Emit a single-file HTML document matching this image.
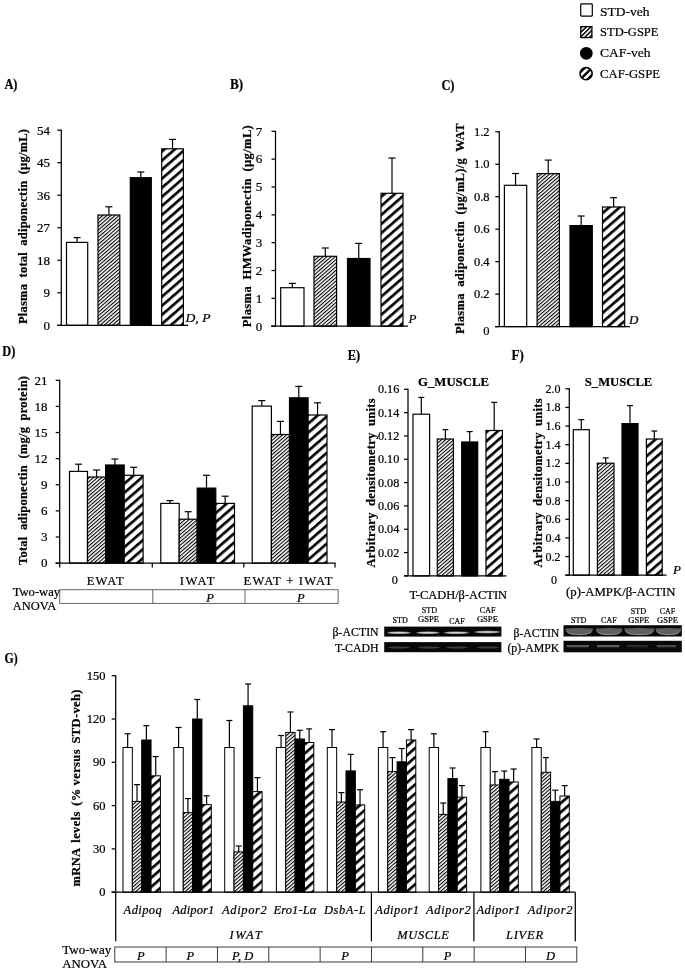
<!DOCTYPE html>
<html><head><meta charset="utf-8"><title>Figure</title>
<style>html,body{margin:0;padding:0;background:#fff}svg{display:block}text{font-family:'Liberation Serif',serif;fill:#000;stroke:#000;stroke-width:.22px}</style>
</head><body>
<svg width="685" height="971" viewBox="0 0 685 971">
<defs>
<pattern id="hf" width="2.7" height="2.7" patternUnits="userSpaceOnUse" patternTransform="rotate(-41)"><rect width="2.7" height="2.7" fill="#fff"/><rect width="2.7" height="1.1" fill="#000"/></pattern>
<pattern id="hw" width="6.85" height="6.85" patternUnits="userSpaceOnUse" patternTransform="rotate(-41)"><rect width="6.85" height="6.85" fill="#fff"/><rect width="6.85" height="2.65" fill="#000"/></pattern>
<pattern id="hl" width="3.2" height="3.2" patternUnits="userSpaceOnUse" patternTransform="rotate(-45) translate(0,0.8)"><rect width="3.2" height="3.2" fill="#fff"/><rect width="3.2" height="1.5" fill="#000"/></pattern>
<filter id="bl" x="-10%" y="-50%" width="120%" height="200%"><feGaussianBlur stdDeviation="0.5"/></filter>
<clipPath id="c4"><circle cx="586.1" cy="73.7" r="6"/></clipPath>
</defs>
<rect width="685" height="971" fill="#fff"/>

<rect x="580.7" y="3.9" width="11.6" height="12.2" rx="0.8" fill="#fff" stroke="#000" stroke-width="1.2"/>
<rect x="580.8" y="26.6" width="11.1" height="11" fill="url(#hl)" stroke="#000" stroke-width="1.3"/>
<circle cx="586.3" cy="53.3" r="6.35" fill="#000"/>
<circle cx="586.1" cy="73.7" r="6.1" fill="#fff" stroke="#000" stroke-width="1.5"/>
<g clip-path="url(#c4)"><line x1="579" y1="80.8" x2="593.2" y2="66.6" stroke="#000" stroke-width="2.4"/><line x1="575.4" y1="77.2" x2="589.6" y2="63" stroke="#000" stroke-width="2.4"/><line x1="582.6" y1="84.4" x2="596.8" y2="70.2" stroke="#000" stroke-width="2.4"/></g>
<text x="600.0" y="16.4" font-size="13.5" textLength="49.6" lengthAdjust="spacingAndGlyphs">STD-veh</text>
<text x="600.0" y="35.8" font-size="13.5" textLength="58.5" lengthAdjust="spacingAndGlyphs">STD-GSPE</text>
<text x="600.0" y="56.8" font-size="13.5" textLength="50.5" lengthAdjust="spacingAndGlyphs">CAF-veh</text>
<text x="600.0" y="78.2" font-size="13.5" textLength="60.0" lengthAdjust="spacingAndGlyphs">CAF-GSPE</text>
<text x="4.4" y="88.8" font-size="13.8" font-weight="bold" textLength="13.1" lengthAdjust="spacingAndGlyphs">A)</text>
<text x="229.9" y="88.8" font-size="13.8" font-weight="bold" textLength="13.1" lengthAdjust="spacingAndGlyphs">B)</text>
<text x="441.4" y="90.0" font-size="13.8" font-weight="bold" textLength="13.1" lengthAdjust="spacingAndGlyphs">C)</text>
<text x="2.2" y="356.3" font-size="13.8" font-weight="bold" textLength="13.1" lengthAdjust="spacingAndGlyphs">D)</text>
<text x="347.8" y="359.8" font-size="13.8" font-weight="bold" textLength="12.4" lengthAdjust="spacingAndGlyphs">E)</text>
<text x="511.6" y="359.8" font-size="13.8" font-weight="bold" textLength="12.2" lengthAdjust="spacingAndGlyphs">F)</text>
<text x="4.4" y="662.5" font-size="13.8" font-weight="bold" textLength="13.2" lengthAdjust="spacingAndGlyphs">G)</text>
<line x1="77.10" y1="237.60" x2="77.10" y2="242.40" stroke="#000" stroke-width="1.2"/>
<line x1="73.60" y1="237.60" x2="80.60" y2="237.60" stroke="#000" stroke-width="1.2"/>
<rect x="66.50" y="242.40" width="21.20" height="82.90" fill="#fff" stroke="#000" stroke-width="1.2"/>
<line x1="108.90" y1="206.80" x2="108.90" y2="215.00" stroke="#000" stroke-width="1.2"/>
<line x1="105.40" y1="206.80" x2="112.40" y2="206.80" stroke="#000" stroke-width="1.2"/>
<rect x="98.00" y="215.00" width="21.80" height="110.30" fill="url(#hf)" stroke="#000" stroke-width="1.2"/>
<line x1="140.80" y1="172.00" x2="140.80" y2="177.70" stroke="#000" stroke-width="1.2"/>
<line x1="137.30" y1="172.00" x2="144.30" y2="172.00" stroke="#000" stroke-width="1.2"/>
<rect x="130.30" y="177.70" width="21.00" height="147.60" fill="#000" stroke="#000" stroke-width="1.2"/>
<line x1="172.55" y1="139.40" x2="172.55" y2="148.80" stroke="#000" stroke-width="1.2"/>
<line x1="169.05" y1="139.40" x2="176.05" y2="139.40" stroke="#000" stroke-width="1.2"/>
<rect x="161.70" y="148.80" width="21.70" height="176.50" fill="url(#hw)" stroke="#000" stroke-width="1.2"/>
<line x1="57.30" y1="325.30" x2="188.00" y2="325.30" stroke="#000" stroke-width="1.25"/>
<line x1="61.30" y1="129.70" x2="61.30" y2="325.30" stroke="#000" stroke-width="1.25"/>
<line x1="57.30" y1="325.30" x2="61.30" y2="325.30" stroke="#000" stroke-width="1.25"/>
<text x="50.0" y="329.6" font-size="13" text-anchor="end">0</text>
<line x1="57.30" y1="292.78" x2="61.30" y2="292.78" stroke="#000" stroke-width="1.25"/>
<text x="50.0" y="297.1" font-size="13" text-anchor="end">9</text>
<line x1="57.30" y1="260.27" x2="61.30" y2="260.27" stroke="#000" stroke-width="1.25"/>
<text x="50.0" y="264.6" font-size="13" text-anchor="end">18</text>
<line x1="57.30" y1="227.75" x2="61.30" y2="227.75" stroke="#000" stroke-width="1.25"/>
<text x="50.0" y="232.0" font-size="13" text-anchor="end">27</text>
<line x1="57.30" y1="195.23" x2="61.30" y2="195.23" stroke="#000" stroke-width="1.25"/>
<text x="50.0" y="199.5" font-size="13" text-anchor="end">36</text>
<line x1="57.30" y1="162.72" x2="61.30" y2="162.72" stroke="#000" stroke-width="1.25"/>
<text x="50.0" y="167.0" font-size="13" text-anchor="end">45</text>
<line x1="57.30" y1="130.20" x2="61.30" y2="130.20" stroke="#000" stroke-width="1.25"/>
<text x="50.0" y="134.5" font-size="13" text-anchor="end">54</text>
<text x="27.2" y="324.0" font-size="12.5" font-weight="bold" textLength="195.0" lengthAdjust="spacing" word-spacing="3" transform="rotate(-90 27.2 324.0)">Plasma total adiponectin (µg/mL)</text>
<text x="185.5" y="322.0" font-size="13" font-style="italic" stroke-width="0.08" textLength="25.0" lengthAdjust="spacingAndGlyphs">D, P</text>
<line x1="292.35" y1="283.40" x2="292.35" y2="287.70" stroke="#000" stroke-width="1.2"/>
<line x1="288.85" y1="283.40" x2="295.85" y2="283.40" stroke="#000" stroke-width="1.2"/>
<rect x="280.70" y="287.70" width="23.30" height="38.50" fill="#fff" stroke="#000" stroke-width="1.2"/>
<line x1="325.30" y1="248.00" x2="325.30" y2="256.30" stroke="#000" stroke-width="1.2"/>
<line x1="321.80" y1="248.00" x2="328.80" y2="248.00" stroke="#000" stroke-width="1.2"/>
<rect x="314.00" y="256.30" width="22.60" height="69.90" fill="url(#hf)" stroke="#000" stroke-width="1.2"/>
<line x1="358.75" y1="243.40" x2="358.75" y2="258.50" stroke="#000" stroke-width="1.2"/>
<line x1="355.25" y1="243.40" x2="362.25" y2="243.40" stroke="#000" stroke-width="1.2"/>
<rect x="347.50" y="258.50" width="22.50" height="67.70" fill="#000" stroke="#000" stroke-width="1.2"/>
<line x1="392.00" y1="158.00" x2="392.00" y2="193.30" stroke="#000" stroke-width="1.2"/>
<line x1="388.50" y1="158.00" x2="395.50" y2="158.00" stroke="#000" stroke-width="1.2"/>
<rect x="381.00" y="193.30" width="22.00" height="132.90" fill="url(#hw)" stroke="#000" stroke-width="1.2"/>
<line x1="271.00" y1="326.20" x2="408.00" y2="326.20" stroke="#000" stroke-width="1.25"/>
<line x1="275.50" y1="130.80" x2="275.50" y2="326.20" stroke="#000" stroke-width="1.25"/>
<line x1="271.50" y1="326.20" x2="275.50" y2="326.20" stroke="#000" stroke-width="1.25"/>
<text x="262.2" y="330.5" font-size="13" text-anchor="end">0</text>
<line x1="271.50" y1="298.36" x2="275.50" y2="298.36" stroke="#000" stroke-width="1.25"/>
<text x="262.2" y="302.6" font-size="13" text-anchor="end">1</text>
<line x1="271.50" y1="270.51" x2="275.50" y2="270.51" stroke="#000" stroke-width="1.25"/>
<text x="262.2" y="274.8" font-size="13" text-anchor="end">2</text>
<line x1="271.50" y1="242.67" x2="275.50" y2="242.67" stroke="#000" stroke-width="1.25"/>
<text x="262.2" y="247.0" font-size="13" text-anchor="end">3</text>
<line x1="271.50" y1="214.83" x2="275.50" y2="214.83" stroke="#000" stroke-width="1.25"/>
<text x="262.2" y="219.1" font-size="13" text-anchor="end">4</text>
<line x1="271.50" y1="186.99" x2="275.50" y2="186.99" stroke="#000" stroke-width="1.25"/>
<text x="262.2" y="191.3" font-size="13" text-anchor="end">5</text>
<line x1="271.50" y1="159.14" x2="275.50" y2="159.14" stroke="#000" stroke-width="1.25"/>
<text x="262.2" y="163.4" font-size="13" text-anchor="end">6</text>
<line x1="271.50" y1="131.30" x2="275.50" y2="131.30" stroke="#000" stroke-width="1.25"/>
<text x="262.2" y="135.6" font-size="13" text-anchor="end">7</text>
<text x="250.6" y="327.2" font-size="12.5" font-weight="bold" textLength="202.0" lengthAdjust="spacing" word-spacing="3" transform="rotate(-90 250.6 327.2)">Plasma HMWadiponectin (µg/mL)</text>
<text x="408.5" y="322.5" font-size="13" font-style="italic" stroke-width="0.08">P</text>
<line x1="515.55" y1="173.50" x2="515.55" y2="185.30" stroke="#000" stroke-width="1.2"/>
<line x1="512.05" y1="173.50" x2="519.05" y2="173.50" stroke="#000" stroke-width="1.2"/>
<rect x="504.40" y="185.30" width="22.30" height="141.30" fill="#fff" stroke="#000" stroke-width="1.2"/>
<line x1="548.25" y1="160.10" x2="548.25" y2="173.60" stroke="#000" stroke-width="1.2"/>
<line x1="544.75" y1="160.10" x2="551.75" y2="160.10" stroke="#000" stroke-width="1.2"/>
<rect x="537.10" y="173.60" width="22.30" height="153.00" fill="url(#hf)" stroke="#000" stroke-width="1.2"/>
<line x1="581.15" y1="216.00" x2="581.15" y2="225.60" stroke="#000" stroke-width="1.2"/>
<line x1="577.65" y1="216.00" x2="584.65" y2="216.00" stroke="#000" stroke-width="1.2"/>
<rect x="570.00" y="225.60" width="22.30" height="101.00" fill="#000" stroke="#000" stroke-width="1.2"/>
<line x1="613.60" y1="197.70" x2="613.60" y2="207.00" stroke="#000" stroke-width="1.2"/>
<line x1="610.10" y1="197.70" x2="617.10" y2="197.70" stroke="#000" stroke-width="1.2"/>
<rect x="602.50" y="207.00" width="22.20" height="119.60" fill="url(#hw)" stroke="#000" stroke-width="1.2"/>
<line x1="495.00" y1="326.60" x2="630.00" y2="326.60" stroke="#000" stroke-width="1.25"/>
<line x1="499.30" y1="131.30" x2="499.30" y2="326.60" stroke="#000" stroke-width="1.25"/>
<line x1="495.30" y1="326.60" x2="499.30" y2="326.60" stroke="#000" stroke-width="1.25"/>
<text x="489.6" y="334.7" font-size="12.5" text-anchor="end">0</text>
<line x1="495.30" y1="294.13" x2="499.30" y2="294.13" stroke="#000" stroke-width="1.25"/>
<text x="489.6" y="298.3" font-size="12.5" text-anchor="end">0.2</text>
<line x1="495.30" y1="261.67" x2="499.30" y2="261.67" stroke="#000" stroke-width="1.25"/>
<text x="489.6" y="265.8" font-size="12.5" text-anchor="end">0.4</text>
<line x1="495.30" y1="229.20" x2="499.30" y2="229.20" stroke="#000" stroke-width="1.25"/>
<text x="489.6" y="233.3" font-size="12.5" text-anchor="end">0.6</text>
<line x1="495.30" y1="196.73" x2="499.30" y2="196.73" stroke="#000" stroke-width="1.25"/>
<text x="489.6" y="200.9" font-size="12.5" text-anchor="end">0.8</text>
<line x1="495.30" y1="164.27" x2="499.30" y2="164.27" stroke="#000" stroke-width="1.25"/>
<text x="489.6" y="168.4" font-size="12.5" text-anchor="end">1.0</text>
<line x1="495.30" y1="131.80" x2="499.30" y2="131.80" stroke="#000" stroke-width="1.25"/>
<text x="489.6" y="135.9" font-size="12.5" text-anchor="end">1.2</text>
<text x="464.0" y="334.0" font-size="12.5" font-weight="bold" textLength="210.5" lengthAdjust="spacing" word-spacing="3" transform="rotate(-90 464.0 334.0)">Plasma adiponectin (µg/mL)/g WAT</text>
<text x="629.0" y="324.0" font-size="13" font-style="italic" stroke-width="0.08">D</text>
<line x1="78.50" y1="464.20" x2="78.50" y2="471.40" stroke="#000" stroke-width="1.2"/>
<line x1="75.00" y1="464.20" x2="82.00" y2="464.20" stroke="#000" stroke-width="1.2"/>
<line x1="96.55" y1="470.00" x2="96.55" y2="477.00" stroke="#000" stroke-width="1.2"/>
<line x1="93.05" y1="470.00" x2="100.05" y2="470.00" stroke="#000" stroke-width="1.2"/>
<line x1="114.90" y1="459.00" x2="114.90" y2="465.00" stroke="#000" stroke-width="1.2"/>
<line x1="111.40" y1="459.00" x2="118.40" y2="459.00" stroke="#000" stroke-width="1.2"/>
<line x1="133.65" y1="467.30" x2="133.65" y2="475.30" stroke="#000" stroke-width="1.2"/>
<line x1="130.15" y1="467.30" x2="137.15" y2="467.30" stroke="#000" stroke-width="1.2"/>
<rect x="69.50" y="471.40" width="18.00" height="91.70" fill="#fff" stroke="#000" stroke-width="1.2"/>
<rect x="87.50" y="477.00" width="18.10" height="86.10" fill="url(#hf)" stroke="#000" stroke-width="1.2"/>
<rect x="105.60" y="465.00" width="18.60" height="98.10" fill="#000" stroke="#000" stroke-width="1.2"/>
<rect x="124.20" y="475.30" width="18.90" height="87.80" fill="url(#hw)" stroke="#000" stroke-width="1.2"/>
<line x1="170.00" y1="500.60" x2="170.00" y2="503.40" stroke="#000" stroke-width="1.2"/>
<line x1="166.50" y1="500.60" x2="173.50" y2="500.60" stroke="#000" stroke-width="1.2"/>
<line x1="188.20" y1="511.70" x2="188.20" y2="519.20" stroke="#000" stroke-width="1.2"/>
<line x1="184.70" y1="511.70" x2="191.70" y2="511.70" stroke="#000" stroke-width="1.2"/>
<line x1="206.50" y1="475.30" x2="206.50" y2="488.10" stroke="#000" stroke-width="1.2"/>
<line x1="203.00" y1="475.30" x2="210.00" y2="475.30" stroke="#000" stroke-width="1.2"/>
<line x1="225.15" y1="496.20" x2="225.15" y2="503.40" stroke="#000" stroke-width="1.2"/>
<line x1="221.65" y1="496.20" x2="228.65" y2="496.20" stroke="#000" stroke-width="1.2"/>
<rect x="160.80" y="503.40" width="18.40" height="59.70" fill="#fff" stroke="#000" stroke-width="1.2"/>
<rect x="179.20" y="519.20" width="18.00" height="43.90" fill="url(#hf)" stroke="#000" stroke-width="1.2"/>
<rect x="197.20" y="488.10" width="18.60" height="75.00" fill="#000" stroke="#000" stroke-width="1.2"/>
<rect x="215.80" y="503.40" width="18.70" height="59.70" fill="url(#hw)" stroke="#000" stroke-width="1.2"/>
<line x1="261.80" y1="400.60" x2="261.80" y2="406.10" stroke="#000" stroke-width="1.2"/>
<line x1="258.30" y1="400.60" x2="265.30" y2="400.60" stroke="#000" stroke-width="1.2"/>
<line x1="280.45" y1="421.40" x2="280.45" y2="434.50" stroke="#000" stroke-width="1.2"/>
<line x1="276.95" y1="421.40" x2="283.95" y2="421.40" stroke="#000" stroke-width="1.2"/>
<line x1="298.80" y1="386.40" x2="298.80" y2="397.80" stroke="#000" stroke-width="1.2"/>
<line x1="295.30" y1="386.40" x2="302.30" y2="386.40" stroke="#000" stroke-width="1.2"/>
<line x1="317.55" y1="402.80" x2="317.55" y2="415.00" stroke="#000" stroke-width="1.2"/>
<line x1="314.05" y1="402.80" x2="321.05" y2="402.80" stroke="#000" stroke-width="1.2"/>
<rect x="252.20" y="406.10" width="19.20" height="157.00" fill="#fff" stroke="#000" stroke-width="1.2"/>
<rect x="271.40" y="434.50" width="18.10" height="128.60" fill="url(#hf)" stroke="#000" stroke-width="1.2"/>
<rect x="289.50" y="397.80" width="18.60" height="165.30" fill="#000" stroke="#000" stroke-width="1.2"/>
<rect x="308.10" y="415.00" width="18.90" height="148.10" fill="url(#hw)" stroke="#000" stroke-width="1.2"/>
<line x1="55.50" y1="563.10" x2="335.50" y2="563.10" stroke="#000" stroke-width="1.25"/>
<line x1="59.70" y1="563.10" x2="59.70" y2="567.60" stroke="#000" stroke-width="1.25"/>
<line x1="152.30" y1="563.10" x2="152.30" y2="567.60" stroke="#000" stroke-width="1.25"/>
<line x1="243.80" y1="563.10" x2="243.80" y2="567.60" stroke="#000" stroke-width="1.25"/>
<line x1="335.00" y1="563.10" x2="335.00" y2="567.60" stroke="#000" stroke-width="1.25"/>
<line x1="59.70" y1="379.80" x2="59.70" y2="563.10" stroke="#000" stroke-width="1.25"/>
<line x1="55.70" y1="563.10" x2="59.70" y2="563.10" stroke="#000" stroke-width="1.25"/>
<text x="47.6" y="567.4" font-size="13" text-anchor="end">0</text>
<line x1="55.70" y1="536.99" x2="59.70" y2="536.99" stroke="#000" stroke-width="1.25"/>
<text x="47.6" y="541.3" font-size="13" text-anchor="end">3</text>
<line x1="55.70" y1="510.87" x2="59.70" y2="510.87" stroke="#000" stroke-width="1.25"/>
<text x="47.6" y="515.2" font-size="13" text-anchor="end">6</text>
<line x1="55.70" y1="484.76" x2="59.70" y2="484.76" stroke="#000" stroke-width="1.25"/>
<text x="47.6" y="489.0" font-size="13" text-anchor="end">9</text>
<line x1="55.70" y1="458.64" x2="59.70" y2="458.64" stroke="#000" stroke-width="1.25"/>
<text x="47.6" y="462.9" font-size="13" text-anchor="end">12</text>
<line x1="55.70" y1="432.53" x2="59.70" y2="432.53" stroke="#000" stroke-width="1.25"/>
<text x="47.6" y="436.8" font-size="13" text-anchor="end">15</text>
<line x1="55.70" y1="406.41" x2="59.70" y2="406.41" stroke="#000" stroke-width="1.25"/>
<text x="47.6" y="410.7" font-size="13" text-anchor="end">18</text>
<line x1="55.70" y1="380.30" x2="59.70" y2="380.30" stroke="#000" stroke-width="1.25"/>
<text x="47.6" y="384.6" font-size="13" text-anchor="end">21</text>
<text x="26.6" y="565.0" font-size="12.5" font-weight="bold" textLength="189.0" lengthAdjust="spacing" word-spacing="3" transform="rotate(-90 26.6 565.0)">Total adiponectin (mg/g protein)</text>
<text x="86.7" y="584.5" font-size="12.6" textLength="37.0" lengthAdjust="spacing">EWAT</text>
<text x="179.7" y="584.5" font-size="12.6" textLength="34.8" lengthAdjust="spacing">IWAT</text>
<text x="243.6" y="584.5" font-size="12.6" textLength="88.9" lengthAdjust="spacing">EWAT + IWAT</text>
<rect x="59.7" y="589.7" width="278.4" height="13.7" fill="#fff" stroke="#555" stroke-width="0.9"/>
<line x1="152.80" y1="589.70" x2="152.80" y2="603.40" stroke="#555" stroke-width="0.9"/>
<line x1="245.00" y1="589.70" x2="245.00" y2="603.40" stroke="#555" stroke-width="0.9"/>
<text x="12.7" y="595.6" font-size="12.5" textLength="47.4" lengthAdjust="spacingAndGlyphs">Two-way</text>
<text x="12.7" y="609.5" font-size="12.5" textLength="43.5" lengthAdjust="spacingAndGlyphs">ANOVA</text>
<text x="210.0" y="602.3" font-size="12.5" font-style="italic" stroke-width="0.08" text-anchor="middle">P</text>
<text x="300.9" y="602.3" font-size="12.5" font-style="italic" stroke-width="0.08" text-anchor="middle">P</text>
<line x1="421.30" y1="397.40" x2="421.30" y2="414.20" stroke="#000" stroke-width="1.2"/>
<line x1="418.30" y1="397.40" x2="424.30" y2="397.40" stroke="#000" stroke-width="1.2"/>
<rect x="413.00" y="414.20" width="16.60" height="161.70" fill="#fff" stroke="#000" stroke-width="1.2"/>
<line x1="445.35" y1="429.70" x2="445.35" y2="439.00" stroke="#000" stroke-width="1.2"/>
<line x1="442.35" y1="429.70" x2="448.35" y2="429.70" stroke="#000" stroke-width="1.2"/>
<rect x="437.30" y="439.00" width="16.10" height="136.90" fill="url(#hf)" stroke="#000" stroke-width="1.2"/>
<line x1="469.70" y1="431.60" x2="469.70" y2="442.00" stroke="#000" stroke-width="1.2"/>
<line x1="466.70" y1="431.60" x2="472.70" y2="431.60" stroke="#000" stroke-width="1.2"/>
<rect x="461.70" y="442.00" width="16.00" height="133.90" fill="#000" stroke="#000" stroke-width="1.2"/>
<line x1="494.20" y1="402.40" x2="494.20" y2="430.50" stroke="#000" stroke-width="1.2"/>
<line x1="491.20" y1="402.40" x2="497.20" y2="402.40" stroke="#000" stroke-width="1.2"/>
<rect x="486.00" y="430.50" width="16.40" height="145.40" fill="url(#hw)" stroke="#000" stroke-width="1.2"/>
<line x1="404.20" y1="575.90" x2="506.40" y2="575.90" stroke="#000" stroke-width="1.25"/>
<line x1="408.00" y1="388.80" x2="408.00" y2="575.90" stroke="#000" stroke-width="1.25"/>
<line x1="404.00" y1="575.90" x2="408.00" y2="575.90" stroke="#000" stroke-width="1.25"/>
<text x="397.8" y="584.2" font-size="12.2" text-anchor="end">0</text>
<line x1="404.00" y1="552.57" x2="408.00" y2="552.57" stroke="#000" stroke-width="1.25"/>
<text x="399.3" y="556.6" font-size="12.2" text-anchor="end">0.02</text>
<line x1="404.00" y1="529.25" x2="408.00" y2="529.25" stroke="#000" stroke-width="1.25"/>
<text x="399.3" y="533.3" font-size="12.2" text-anchor="end">0.04</text>
<line x1="404.00" y1="505.92" x2="408.00" y2="505.92" stroke="#000" stroke-width="1.25"/>
<text x="399.3" y="510.0" font-size="12.2" text-anchor="end">0.06</text>
<line x1="404.00" y1="482.60" x2="408.00" y2="482.60" stroke="#000" stroke-width="1.25"/>
<text x="399.3" y="486.6" font-size="12.2" text-anchor="end">0.08</text>
<line x1="404.00" y1="459.27" x2="408.00" y2="459.27" stroke="#000" stroke-width="1.25"/>
<text x="399.3" y="463.3" font-size="12.2" text-anchor="end">0.10</text>
<line x1="404.00" y1="435.95" x2="408.00" y2="435.95" stroke="#000" stroke-width="1.25"/>
<text x="399.3" y="440.0" font-size="12.2" text-anchor="end">0.12</text>
<line x1="404.00" y1="412.62" x2="408.00" y2="412.62" stroke="#000" stroke-width="1.25"/>
<text x="399.3" y="416.7" font-size="12.2" text-anchor="end">0.14</text>
<line x1="404.00" y1="389.30" x2="408.00" y2="389.30" stroke="#000" stroke-width="1.25"/>
<text x="399.3" y="393.3" font-size="12.2" text-anchor="end">0.16</text>
<text x="418.0" y="385.5" font-size="12.8" font-weight="bold" textLength="71.0" lengthAdjust="spacingAndGlyphs">G_MUSCLE</text>
<text x="375.0" y="567.6" font-size="12.5" font-weight="bold" textLength="169.2" lengthAdjust="spacing" word-spacing="3" transform="rotate(-90 375.0 567.6)">Arbitrary densitometry units</text>
<text x="409.4" y="598.6" font-size="12.5" textLength="97.6" lengthAdjust="spacingAndGlyphs">T-CADH/β-ACTIN</text>
<line x1="581.30" y1="419.60" x2="581.30" y2="429.70" stroke="#000" stroke-width="1.2"/>
<line x1="578.30" y1="419.60" x2="584.30" y2="419.60" stroke="#000" stroke-width="1.2"/>
<rect x="573.30" y="429.70" width="16.00" height="145.50" fill="#fff" stroke="#000" stroke-width="1.2"/>
<line x1="605.70" y1="457.90" x2="605.70" y2="463.20" stroke="#000" stroke-width="1.2"/>
<line x1="602.70" y1="457.90" x2="608.70" y2="457.90" stroke="#000" stroke-width="1.2"/>
<rect x="597.40" y="463.20" width="16.60" height="112.00" fill="url(#hf)" stroke="#000" stroke-width="1.2"/>
<line x1="630.00" y1="405.60" x2="630.00" y2="423.60" stroke="#000" stroke-width="1.2"/>
<line x1="627.00" y1="405.60" x2="633.00" y2="405.60" stroke="#000" stroke-width="1.2"/>
<rect x="622.00" y="423.60" width="16.00" height="151.60" fill="#000" stroke="#000" stroke-width="1.2"/>
<line x1="654.30" y1="431.00" x2="654.30" y2="439.00" stroke="#000" stroke-width="1.2"/>
<line x1="651.30" y1="431.00" x2="657.30" y2="431.00" stroke="#000" stroke-width="1.2"/>
<rect x="646.40" y="439.00" width="15.80" height="136.20" fill="url(#hw)" stroke="#000" stroke-width="1.2"/>
<line x1="565.30" y1="575.20" x2="666.50" y2="575.20" stroke="#000" stroke-width="1.25"/>
<line x1="569.30" y1="388.30" x2="569.30" y2="575.20" stroke="#000" stroke-width="1.25"/>
<line x1="565.30" y1="575.20" x2="569.30" y2="575.20" stroke="#000" stroke-width="1.25"/>
<text x="556.9" y="583.5" font-size="12" text-anchor="end">0</text>
<line x1="565.30" y1="556.56" x2="569.30" y2="556.56" stroke="#000" stroke-width="1.25"/>
<text x="560.5" y="560.5" font-size="12" text-anchor="end">0.2</text>
<line x1="565.30" y1="537.92" x2="569.30" y2="537.92" stroke="#000" stroke-width="1.25"/>
<text x="560.5" y="541.9" font-size="12" text-anchor="end">0.4</text>
<line x1="565.30" y1="519.28" x2="569.30" y2="519.28" stroke="#000" stroke-width="1.25"/>
<text x="560.5" y="523.2" font-size="12" text-anchor="end">0.6</text>
<line x1="565.30" y1="500.64" x2="569.30" y2="500.64" stroke="#000" stroke-width="1.25"/>
<text x="560.5" y="504.6" font-size="12" text-anchor="end">0.8</text>
<line x1="565.30" y1="482.00" x2="569.30" y2="482.00" stroke="#000" stroke-width="1.25"/>
<text x="560.5" y="486.0" font-size="12" text-anchor="end">1.0</text>
<line x1="565.30" y1="463.36" x2="569.30" y2="463.36" stroke="#000" stroke-width="1.25"/>
<text x="560.5" y="467.3" font-size="12" text-anchor="end">1.2</text>
<line x1="565.30" y1="444.72" x2="569.30" y2="444.72" stroke="#000" stroke-width="1.25"/>
<text x="560.5" y="448.7" font-size="12" text-anchor="end">1.4</text>
<line x1="565.30" y1="426.08" x2="569.30" y2="426.08" stroke="#000" stroke-width="1.25"/>
<text x="560.5" y="430.0" font-size="12" text-anchor="end">1.6</text>
<line x1="565.30" y1="407.44" x2="569.30" y2="407.44" stroke="#000" stroke-width="1.25"/>
<text x="560.5" y="411.4" font-size="12" text-anchor="end">1.8</text>
<line x1="565.30" y1="388.80" x2="569.30" y2="388.80" stroke="#000" stroke-width="1.25"/>
<text x="560.5" y="392.8" font-size="12" text-anchor="end">2.0</text>
<text x="584.8" y="385.5" font-size="12.8" font-weight="bold" textLength="67.5" lengthAdjust="spacingAndGlyphs">S_MUSCLE</text>
<text x="541.6" y="567.6" font-size="12.5" font-weight="bold" textLength="169.2" lengthAdjust="spacing" word-spacing="3" transform="rotate(-90 541.6 567.6)">Arbitrary densitometry units</text>
<text x="566.0" y="596.4" font-size="12.5" textLength="109.6" lengthAdjust="spacingAndGlyphs">(p)-AMPK/β-ACTIN</text>
<text x="673.0" y="573.6" font-size="13" font-style="italic" stroke-width="0.08">P</text>
<rect x="384.2" y="626.6" width="117.2" height="10" fill="#080808"/>
<ellipse cx="399.0" cy="632.7" rx="12.3" ry="1.4" fill="#6e6e6e" filter="url(#bl)"/>
<ellipse cx="399.0" cy="632.7" rx="10.3" ry="0.75" fill="#d8d8d8" filter="url(#bl)"/>
<ellipse cx="427.9" cy="632.7" rx="11.9" ry="1.4" fill="#6e6e6e" filter="url(#bl)"/>
<ellipse cx="427.9" cy="632.7" rx="9.9" ry="0.75" fill="#d8d8d8" filter="url(#bl)"/>
<ellipse cx="456.4" cy="632.7" rx="12.8" ry="1.4" fill="#6e6e6e" filter="url(#bl)"/>
<ellipse cx="456.4" cy="632.7" rx="10.8" ry="0.75" fill="#d8d8d8" filter="url(#bl)"/>
<ellipse cx="487.2" cy="632.0" rx="13.2" ry="1.4" fill="#6e6e6e" filter="url(#bl)"/>
<ellipse cx="487.2" cy="632.0" rx="11.2" ry="0.75" fill="#d8d8d8" filter="url(#bl)"/>
<rect x="384.2" y="642.1" width="117.2" height="10.1" fill="#080808"/>
<ellipse cx="399.0" cy="647.5" rx="11.0" ry="0.9" fill="#3c3c3c" filter="url(#bl)"/>
<ellipse cx="429.0" cy="647.5" rx="11.0" ry="0.9" fill="#3c3c3c" filter="url(#bl)"/>
<ellipse cx="457.0" cy="647.5" rx="11.0" ry="0.9" fill="#3c3c3c" filter="url(#bl)"/>
<ellipse cx="488.0" cy="647.5" rx="11.0" ry="0.9" fill="#3c3c3c" filter="url(#bl)"/>
<text x="378.6" y="636.0" font-size="11.8" text-anchor="end" textLength="46.0" lengthAdjust="spacingAndGlyphs">β-ACTIN</text>
<text x="378.6" y="651.5" font-size="11.8" text-anchor="end" textLength="43.6" lengthAdjust="spacingAndGlyphs">T-CADH</text>
<text x="392.5" y="623.1" font-size="8.6" textLength="15.4" lengthAdjust="spacingAndGlyphs" stroke="#000" stroke-width="0.25">STD</text>
<text x="421.8" y="613.3" font-size="8.6" textLength="15.4" lengthAdjust="spacingAndGlyphs" stroke="#000" stroke-width="0.25">STD</text>
<text x="418.1" y="622.4" font-size="8.6" textLength="21.0" lengthAdjust="spacingAndGlyphs" stroke="#000" stroke-width="0.25">GSPE</text>
<text x="449.2" y="623.7" font-size="8.6" textLength="15.6" lengthAdjust="spacingAndGlyphs" stroke="#000" stroke-width="0.25">CAF</text>
<text x="479.8" y="613.3" font-size="8.6" textLength="15.6" lengthAdjust="spacingAndGlyphs" stroke="#000" stroke-width="0.25">CAF</text>
<text x="476.9" y="622.4" font-size="8.6" textLength="21.0" lengthAdjust="spacingAndGlyphs" stroke="#000" stroke-width="0.25">GSPE</text>
<rect x="563.5" y="625.2" width="118.3" height="11.3" fill="#080808"/>
<path d="M565.4,628.6 Q579.2,627.4 593,628.6 Q593,635.2 579.2,635.2 Q565.4,635.2 565.4,628.6 Z" fill="#5e5e5e" filter="url(#bl)"/>
<path d="M566.9,631.5 Q568.4,634.6 579.2,634.6 Q590,634.6 591.5,631.5" fill="none" stroke="#909090" stroke-width="0.9" filter="url(#bl)"/>
<path d="M595.8,628.6 Q609.0999999999999,627.4 622.4,628.6 Q622.4,635.2 609.0999999999999,635.2 Q595.8,635.2 595.8,628.6 Z" fill="#5e5e5e" filter="url(#bl)"/>
<path d="M597.3,631.5 Q598.8,634.6 609.0999999999999,634.6 Q619.4,634.6 620.9,631.5" fill="none" stroke="#909090" stroke-width="0.9" filter="url(#bl)"/>
<path d="M624.3,628.6 Q639.45,627.4 654.6,628.6 Q654.6,635.2 639.45,635.2 Q624.3,635.2 624.3,628.6 Z" fill="#5e5e5e" filter="url(#bl)"/>
<path d="M625.8,631.5 Q627.3,634.6 639.45,634.6 Q651.6,634.6 653.1,631.5" fill="none" stroke="#909090" stroke-width="0.9" filter="url(#bl)"/>
<path d="M655.6,628.6 Q668.4000000000001,627.4 681.2,628.6 Q681.2,635.2 668.4000000000001,635.2 Q655.6,635.2 655.6,628.6 Z" fill="#5e5e5e" filter="url(#bl)"/>
<path d="M657.1,631.5 Q658.6,634.6 668.4000000000001,634.6 Q678.2,634.6 679.7,631.5" fill="none" stroke="#909090" stroke-width="0.9" filter="url(#bl)"/>
<rect x="563.5" y="640.8" width="118.3" height="11.5" fill="#080808"/>
<rect x="566.4" y="645" width="22.8" height="2.2" rx="1.1" fill="#585858" filter="url(#bl)"/>
<rect x="596.7" y="645" width="22.8" height="2.2" rx="1.1" fill="#606060" filter="url(#bl)"/>
<rect x="626.2" y="645" width="21.8" height="2.2" rx="1.1" fill="#2a2a2a" filter="url(#bl)"/>
<rect x="656.5" y="645" width="19.9" height="2.2" rx="1.1" fill="#484848" filter="url(#bl)"/>
<text x="559.4" y="637.0" font-size="11.8" text-anchor="end" textLength="46.0" lengthAdjust="spacingAndGlyphs">β-ACTIN</text>
<text x="559.4" y="651.5" font-size="11.8" text-anchor="end" textLength="52.0" lengthAdjust="spacingAndGlyphs">(p)-AMPK</text>
<text x="571.0" y="623.1" font-size="8.6" textLength="15.4" lengthAdjust="spacingAndGlyphs" stroke="#000" stroke-width="0.25">STD</text>
<text x="601.1" y="623.1" font-size="8.6" textLength="15.6" lengthAdjust="spacingAndGlyphs" stroke="#000" stroke-width="0.25">CAF</text>
<text x="630.8" y="613.9" font-size="8.6" textLength="15.4" lengthAdjust="spacingAndGlyphs" stroke="#000" stroke-width="0.25">STD</text>
<text x="628.2" y="623.1" font-size="8.6" textLength="21.0" lengthAdjust="spacingAndGlyphs" stroke="#000" stroke-width="0.25">GSPE</text>
<text x="659.7" y="613.9" font-size="8.6" textLength="15.6" lengthAdjust="spacingAndGlyphs" stroke="#000" stroke-width="0.25">CAF</text>
<text x="657.0" y="623.1" font-size="8.6" textLength="21.0" lengthAdjust="spacingAndGlyphs" stroke="#000" stroke-width="0.25">GSPE</text>
<line x1="127.67" y1="733.80" x2="127.67" y2="747.50" stroke="#000" stroke-width="1.2"/>
<line x1="124.67" y1="733.80" x2="130.68" y2="733.80" stroke="#000" stroke-width="1.2"/>
<line x1="137.03" y1="784.60" x2="137.03" y2="801.40" stroke="#000" stroke-width="1.2"/>
<line x1="134.03" y1="784.60" x2="140.03" y2="784.60" stroke="#000" stroke-width="1.2"/>
<line x1="146.38" y1="725.70" x2="146.38" y2="740.00" stroke="#000" stroke-width="1.2"/>
<line x1="143.38" y1="725.70" x2="149.38" y2="725.70" stroke="#000" stroke-width="1.2"/>
<line x1="155.73" y1="756.60" x2="155.73" y2="775.80" stroke="#000" stroke-width="1.2"/>
<line x1="152.73" y1="756.60" x2="158.73" y2="756.60" stroke="#000" stroke-width="1.2"/>
<rect x="123.00" y="747.50" width="9.35" height="144.70" fill="#fff" stroke="#000" stroke-width="1.0"/>
<rect x="132.35" y="801.40" width="9.35" height="90.80" fill="url(#hf)" stroke="#000" stroke-width="1.0"/>
<rect x="141.70" y="740.00" width="9.35" height="152.20" fill="#000" stroke="#000" stroke-width="1.0"/>
<rect x="151.05" y="775.80" width="9.35" height="116.40" fill="url(#hw)" stroke="#000" stroke-width="1.0"/>
<line x1="178.58" y1="727.50" x2="178.58" y2="747.50" stroke="#000" stroke-width="1.2"/>
<line x1="175.58" y1="727.50" x2="181.58" y2="727.50" stroke="#000" stroke-width="1.2"/>
<line x1="187.93" y1="798.60" x2="187.93" y2="812.60" stroke="#000" stroke-width="1.2"/>
<line x1="184.93" y1="798.60" x2="190.93" y2="798.60" stroke="#000" stroke-width="1.2"/>
<line x1="197.28" y1="699.50" x2="197.28" y2="719.00" stroke="#000" stroke-width="1.2"/>
<line x1="194.28" y1="699.50" x2="200.28" y2="699.50" stroke="#000" stroke-width="1.2"/>
<line x1="206.62" y1="795.80" x2="206.62" y2="804.60" stroke="#000" stroke-width="1.2"/>
<line x1="203.62" y1="795.80" x2="209.62" y2="795.80" stroke="#000" stroke-width="1.2"/>
<rect x="173.90" y="747.50" width="9.35" height="144.70" fill="#fff" stroke="#000" stroke-width="1.0"/>
<rect x="183.25" y="812.60" width="9.35" height="79.60" fill="url(#hf)" stroke="#000" stroke-width="1.0"/>
<rect x="192.60" y="719.00" width="9.35" height="173.20" fill="#000" stroke="#000" stroke-width="1.0"/>
<rect x="201.95" y="804.60" width="9.35" height="87.60" fill="url(#hw)" stroke="#000" stroke-width="1.0"/>
<line x1="229.38" y1="720.50" x2="229.38" y2="747.50" stroke="#000" stroke-width="1.2"/>
<line x1="226.38" y1="720.50" x2="232.38" y2="720.50" stroke="#000" stroke-width="1.2"/>
<line x1="238.72" y1="846.00" x2="238.72" y2="851.90" stroke="#000" stroke-width="1.2"/>
<line x1="235.72" y1="846.00" x2="241.72" y2="846.00" stroke="#000" stroke-width="1.2"/>
<line x1="248.07" y1="684.00" x2="248.07" y2="705.80" stroke="#000" stroke-width="1.2"/>
<line x1="245.07" y1="684.00" x2="251.07" y2="684.00" stroke="#000" stroke-width="1.2"/>
<line x1="257.43" y1="777.60" x2="257.43" y2="791.60" stroke="#000" stroke-width="1.2"/>
<line x1="254.43" y1="777.60" x2="260.43" y2="777.60" stroke="#000" stroke-width="1.2"/>
<rect x="224.70" y="747.50" width="9.35" height="144.70" fill="#fff" stroke="#000" stroke-width="1.0"/>
<rect x="234.05" y="851.90" width="9.35" height="40.30" fill="url(#hf)" stroke="#000" stroke-width="1.0"/>
<rect x="243.40" y="705.80" width="9.35" height="186.40" fill="#000" stroke="#000" stroke-width="1.0"/>
<rect x="252.75" y="791.60" width="9.35" height="100.60" fill="url(#hw)" stroke="#000" stroke-width="1.0"/>
<line x1="281.07" y1="735.50" x2="281.07" y2="747.50" stroke="#000" stroke-width="1.2"/>
<line x1="278.07" y1="735.50" x2="284.07" y2="735.50" stroke="#000" stroke-width="1.2"/>
<line x1="290.43" y1="712.00" x2="290.43" y2="732.40" stroke="#000" stroke-width="1.2"/>
<line x1="287.43" y1="712.00" x2="293.43" y2="712.00" stroke="#000" stroke-width="1.2"/>
<line x1="299.77" y1="730.30" x2="299.77" y2="739.00" stroke="#000" stroke-width="1.2"/>
<line x1="296.77" y1="730.30" x2="302.77" y2="730.30" stroke="#000" stroke-width="1.2"/>
<line x1="309.12" y1="728.90" x2="309.12" y2="742.50" stroke="#000" stroke-width="1.2"/>
<line x1="306.12" y1="728.90" x2="312.12" y2="728.90" stroke="#000" stroke-width="1.2"/>
<rect x="276.40" y="747.50" width="9.35" height="144.70" fill="#fff" stroke="#000" stroke-width="1.0"/>
<rect x="285.75" y="732.40" width="9.35" height="159.80" fill="url(#hf)" stroke="#000" stroke-width="1.0"/>
<rect x="295.10" y="739.00" width="9.35" height="153.20" fill="#000" stroke="#000" stroke-width="1.0"/>
<rect x="304.45" y="742.50" width="9.35" height="149.70" fill="url(#hw)" stroke="#000" stroke-width="1.0"/>
<line x1="331.98" y1="729.60" x2="331.98" y2="747.50" stroke="#000" stroke-width="1.2"/>
<line x1="328.98" y1="729.60" x2="334.98" y2="729.60" stroke="#000" stroke-width="1.2"/>
<line x1="341.33" y1="792.60" x2="341.33" y2="802.00" stroke="#000" stroke-width="1.2"/>
<line x1="338.33" y1="792.60" x2="344.33" y2="792.60" stroke="#000" stroke-width="1.2"/>
<line x1="350.68" y1="754.40" x2="350.68" y2="770.90" stroke="#000" stroke-width="1.2"/>
<line x1="347.68" y1="754.40" x2="353.68" y2="754.40" stroke="#000" stroke-width="1.2"/>
<line x1="360.03" y1="789.80" x2="360.03" y2="804.90" stroke="#000" stroke-width="1.2"/>
<line x1="357.03" y1="789.80" x2="363.03" y2="789.80" stroke="#000" stroke-width="1.2"/>
<rect x="327.30" y="747.50" width="9.35" height="144.70" fill="#fff" stroke="#000" stroke-width="1.0"/>
<rect x="336.65" y="802.00" width="9.35" height="90.20" fill="url(#hf)" stroke="#000" stroke-width="1.0"/>
<rect x="346.00" y="770.90" width="9.35" height="121.30" fill="#000" stroke="#000" stroke-width="1.0"/>
<rect x="355.35" y="804.90" width="9.35" height="87.30" fill="url(#hw)" stroke="#000" stroke-width="1.0"/>
<line x1="383.07" y1="731.70" x2="383.07" y2="747.50" stroke="#000" stroke-width="1.2"/>
<line x1="380.07" y1="731.70" x2="386.07" y2="731.70" stroke="#000" stroke-width="1.2"/>
<line x1="392.43" y1="757.60" x2="392.43" y2="771.60" stroke="#000" stroke-width="1.2"/>
<line x1="389.43" y1="757.60" x2="395.43" y2="757.60" stroke="#000" stroke-width="1.2"/>
<line x1="401.77" y1="748.50" x2="401.77" y2="761.80" stroke="#000" stroke-width="1.2"/>
<line x1="398.77" y1="748.50" x2="404.77" y2="748.50" stroke="#000" stroke-width="1.2"/>
<line x1="411.12" y1="729.60" x2="411.12" y2="740.00" stroke="#000" stroke-width="1.2"/>
<line x1="408.12" y1="729.60" x2="414.12" y2="729.60" stroke="#000" stroke-width="1.2"/>
<rect x="378.40" y="747.50" width="9.35" height="144.70" fill="#fff" stroke="#000" stroke-width="1.0"/>
<rect x="387.75" y="771.60" width="9.35" height="120.60" fill="url(#hf)" stroke="#000" stroke-width="1.0"/>
<rect x="397.10" y="761.80" width="9.35" height="130.40" fill="#000" stroke="#000" stroke-width="1.0"/>
<rect x="406.45" y="740.00" width="9.35" height="152.20" fill="url(#hw)" stroke="#000" stroke-width="1.0"/>
<line x1="433.88" y1="733.80" x2="433.88" y2="747.50" stroke="#000" stroke-width="1.2"/>
<line x1="430.88" y1="733.80" x2="436.88" y2="733.80" stroke="#000" stroke-width="1.2"/>
<line x1="443.23" y1="803.00" x2="443.23" y2="814.40" stroke="#000" stroke-width="1.2"/>
<line x1="440.23" y1="803.00" x2="446.23" y2="803.00" stroke="#000" stroke-width="1.2"/>
<line x1="452.57" y1="768.00" x2="452.57" y2="778.60" stroke="#000" stroke-width="1.2"/>
<line x1="449.57" y1="768.00" x2="455.57" y2="768.00" stroke="#000" stroke-width="1.2"/>
<line x1="461.93" y1="785.60" x2="461.93" y2="797.20" stroke="#000" stroke-width="1.2"/>
<line x1="458.93" y1="785.60" x2="464.93" y2="785.60" stroke="#000" stroke-width="1.2"/>
<rect x="429.20" y="747.50" width="9.35" height="144.70" fill="#fff" stroke="#000" stroke-width="1.0"/>
<rect x="438.55" y="814.40" width="9.35" height="77.80" fill="url(#hf)" stroke="#000" stroke-width="1.0"/>
<rect x="447.90" y="778.60" width="9.35" height="113.60" fill="#000" stroke="#000" stroke-width="1.0"/>
<rect x="457.25" y="797.20" width="9.35" height="95.00" fill="url(#hw)" stroke="#000" stroke-width="1.0"/>
<line x1="485.57" y1="731.70" x2="485.57" y2="747.50" stroke="#000" stroke-width="1.2"/>
<line x1="482.57" y1="731.70" x2="488.57" y2="731.70" stroke="#000" stroke-width="1.2"/>
<line x1="494.93" y1="771.60" x2="494.93" y2="785.00" stroke="#000" stroke-width="1.2"/>
<line x1="491.93" y1="771.60" x2="497.93" y2="771.60" stroke="#000" stroke-width="1.2"/>
<line x1="504.27" y1="771.00" x2="504.27" y2="779.30" stroke="#000" stroke-width="1.2"/>
<line x1="501.27" y1="771.00" x2="507.27" y2="771.00" stroke="#000" stroke-width="1.2"/>
<line x1="513.62" y1="769.00" x2="513.62" y2="782.00" stroke="#000" stroke-width="1.2"/>
<line x1="510.62" y1="769.00" x2="516.62" y2="769.00" stroke="#000" stroke-width="1.2"/>
<rect x="480.90" y="747.50" width="9.35" height="144.70" fill="#fff" stroke="#000" stroke-width="1.0"/>
<rect x="490.25" y="785.00" width="9.35" height="107.20" fill="url(#hf)" stroke="#000" stroke-width="1.0"/>
<rect x="499.60" y="779.30" width="9.35" height="112.90" fill="#000" stroke="#000" stroke-width="1.0"/>
<rect x="508.95" y="782.00" width="9.35" height="110.20" fill="url(#hw)" stroke="#000" stroke-width="1.0"/>
<line x1="536.57" y1="739.00" x2="536.57" y2="747.50" stroke="#000" stroke-width="1.2"/>
<line x1="533.57" y1="739.00" x2="539.57" y2="739.00" stroke="#000" stroke-width="1.2"/>
<line x1="545.92" y1="757.60" x2="545.92" y2="772.30" stroke="#000" stroke-width="1.2"/>
<line x1="542.92" y1="757.60" x2="548.92" y2="757.60" stroke="#000" stroke-width="1.2"/>
<line x1="555.27" y1="790.20" x2="555.27" y2="801.40" stroke="#000" stroke-width="1.2"/>
<line x1="552.27" y1="790.20" x2="558.27" y2="790.20" stroke="#000" stroke-width="1.2"/>
<line x1="564.62" y1="785.60" x2="564.62" y2="796.00" stroke="#000" stroke-width="1.2"/>
<line x1="561.62" y1="785.60" x2="567.62" y2="785.60" stroke="#000" stroke-width="1.2"/>
<rect x="531.90" y="747.50" width="9.35" height="144.70" fill="#fff" stroke="#000" stroke-width="1.0"/>
<rect x="541.25" y="772.30" width="9.35" height="119.90" fill="url(#hf)" stroke="#000" stroke-width="1.0"/>
<rect x="550.60" y="801.40" width="9.35" height="90.80" fill="#000" stroke="#000" stroke-width="1.0"/>
<rect x="559.95" y="796.00" width="9.35" height="96.20" fill="url(#hw)" stroke="#000" stroke-width="1.0"/>
<line x1="111.50" y1="892.20" x2="575.30" y2="892.20" stroke="#000" stroke-width="1.25"/>
<line x1="115.70" y1="675.20" x2="115.70" y2="941.20" stroke="#000" stroke-width="1.25"/>
<line x1="111.70" y1="892.20" x2="115.70" y2="892.20" stroke="#000" stroke-width="1.25"/>
<text x="105.5" y="896.3" font-size="12.5" text-anchor="end">0</text>
<line x1="111.70" y1="848.90" x2="115.70" y2="848.90" stroke="#000" stroke-width="1.25"/>
<text x="105.5" y="853.0" font-size="12.5" text-anchor="end">30</text>
<line x1="111.70" y1="805.60" x2="115.70" y2="805.60" stroke="#000" stroke-width="1.25"/>
<text x="105.5" y="809.7" font-size="12.5" text-anchor="end">60</text>
<line x1="111.70" y1="762.30" x2="115.70" y2="762.30" stroke="#000" stroke-width="1.25"/>
<text x="105.5" y="766.4" font-size="12.5" text-anchor="end">90</text>
<line x1="111.70" y1="719.00" x2="115.70" y2="719.00" stroke="#000" stroke-width="1.25"/>
<text x="105.5" y="723.1" font-size="12.5" text-anchor="end">120</text>
<line x1="111.70" y1="675.70" x2="115.70" y2="675.70" stroke="#000" stroke-width="1.25"/>
<text x="105.5" y="679.8" font-size="12.5" text-anchor="end">150</text>
<line x1="371.40" y1="892.20" x2="371.40" y2="941.30" stroke="#000" stroke-width="1.25"/>
<line x1="473.90" y1="892.20" x2="473.90" y2="941.30" stroke="#000" stroke-width="1.25"/>
<line x1="575.30" y1="892.20" x2="575.30" y2="941.30" stroke="#000" stroke-width="1.25"/>
<text x="79.8" y="886.5" font-size="12.5" font-weight="bold" textLength="197.0" lengthAdjust="spacing" word-spacing="2" transform="rotate(-90 79.8 886.5)">mRNA levels (% versus STD-veh)</text>
<text x="123.6" y="914.2" font-size="12.5" font-style="italic" stroke-width="0.08" textLength="38.1" lengthAdjust="spacing">Adipoq</text>
<text x="172.6" y="914.2" font-size="12.5" font-style="italic" stroke-width="0.08" textLength="41.7" lengthAdjust="spacing">Adipor1</text>
<text x="222.0" y="914.2" font-size="12.5" font-style="italic" stroke-width="0.08" textLength="44.8" lengthAdjust="spacing">Adipor2</text>
<text x="273.4" y="914.2" font-size="12.5" font-style="italic" stroke-width="0.08" textLength="42.9" lengthAdjust="spacing">Ero1-Lα</text>
<text x="324.0" y="914.2" font-size="12.5" font-style="italic" stroke-width="0.08" textLength="41.7" lengthAdjust="spacing">DsbA-L</text>
<text x="375.3" y="914.2" font-size="12.5" font-style="italic" stroke-width="0.08" textLength="43.7" lengthAdjust="spacing">Adipor1</text>
<text x="426.0" y="914.2" font-size="12.5" font-style="italic" stroke-width="0.08" textLength="44.8" lengthAdjust="spacing">Adipor2</text>
<text x="476.5" y="914.2" font-size="12.5" font-style="italic" stroke-width="0.08" textLength="43.8" lengthAdjust="spacing">Adipor1</text>
<text x="527.8" y="914.2" font-size="12.5" font-style="italic" stroke-width="0.08" textLength="44.6" lengthAdjust="spacing">Adipor2</text>
<text x="229.6" y="939.0" font-size="12.5" font-style="italic" stroke-width="0.08" textLength="32.0" lengthAdjust="spacing">IWAT</text>
<text x="397.2" y="939.0" font-size="12.5" font-style="italic" stroke-width="0.08" textLength="51.8" lengthAdjust="spacing">MUSCLE</text>
<text x="505.9" y="939.0" font-size="12.5" font-style="italic" stroke-width="0.08" textLength="37.2" lengthAdjust="spacing">LIVER</text>
<rect x="114.8" y="947" width="462" height="15" fill="#fff" stroke="#333" stroke-width="0.95"/>
<line x1="166.13" y1="947.00" x2="166.13" y2="962.00" stroke="#333" stroke-width="0.95"/>
<line x1="217.47" y1="947.00" x2="217.47" y2="962.00" stroke="#333" stroke-width="0.95"/>
<line x1="268.80" y1="947.00" x2="268.80" y2="962.00" stroke="#333" stroke-width="0.95"/>
<line x1="320.13" y1="947.00" x2="320.13" y2="962.00" stroke="#333" stroke-width="0.95"/>
<line x1="371.47" y1="947.00" x2="371.47" y2="962.00" stroke="#333" stroke-width="0.95"/>
<line x1="422.80" y1="947.00" x2="422.80" y2="962.00" stroke="#333" stroke-width="0.95"/>
<line x1="474.13" y1="947.00" x2="474.13" y2="962.00" stroke="#333" stroke-width="0.95"/>
<line x1="525.47" y1="947.00" x2="525.47" y2="962.00" stroke="#333" stroke-width="0.95"/>
<text x="62.3" y="953.6" font-size="13" textLength="49.0" lengthAdjust="spacingAndGlyphs">Two-way</text>
<text x="62.3" y="967.6" font-size="13" textLength="44.7" lengthAdjust="spacingAndGlyphs">ANOVA</text>
<text x="140.7" y="959.7" font-size="12.5" font-style="italic" stroke-width="0.08" text-anchor="middle">P</text>
<text x="190.2" y="959.7" font-size="12.5" font-style="italic" stroke-width="0.08" text-anchor="middle">P</text>
<text x="242.7" y="959.7" font-size="12.5" font-style="italic" stroke-width="0.08" text-anchor="middle">P, D</text>
<text x="345.0" y="959.7" font-size="12.5" font-style="italic" stroke-width="0.08" text-anchor="middle">P</text>
<text x="447.6" y="959.7" font-size="12.5" font-style="italic" stroke-width="0.08" text-anchor="middle">P</text>
<text x="550.5" y="959.7" font-size="12.5" font-style="italic" stroke-width="0.08" text-anchor="middle">D</text>
</svg>
</body></html>
